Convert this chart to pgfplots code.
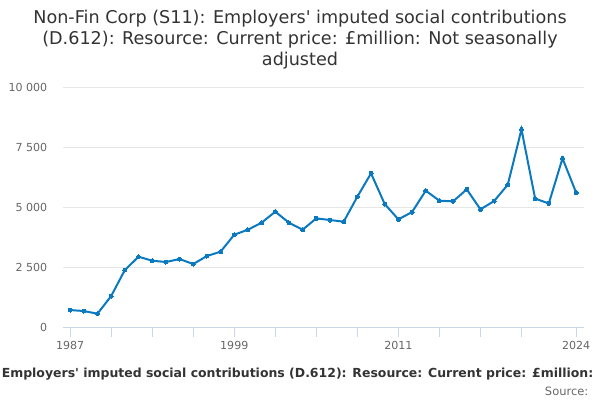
\documentclass[border=0pt]{standalone}
\usepackage{pgfplots}
\pgfplotsset{compat=1.18}
\usepackage{fontspec}
\newfontfamily\dv{DejaVu Sans}
\definecolor{lineblue}{HTML}{0A79BF}
\definecolor{gridc}{HTML}{E6E6E6}
\definecolor{tickc}{HTML}{CCD6EB}
\definecolor{labg}{HTML}{666666}
\definecolor{titc}{HTML}{333333}
\begin{document}
\begin{tikzpicture}[x=0.75pt,y=0.75pt]
\useasboundingbox (0,0) rectangle (600,400);
\node[anchor=north, align=center, text=titc, font=\dv\fontsize{13.2}{15.75}\selectfont, inner sep=0pt] at (300,390.5)
 {Non-Fin Corp (S11): Employers' imputed social contributions\\(D.612): Resource: Current price: £million: Not seasonally\\adjusted};
\begin{axis}[
 at={(47.475pt,54.225pt)}, anchor=south west,
 scale only axis, width=390.3pt, height=180.5pt,
 xmin=1986.5, xmax=2024.55, ymin=0, ymax=10000,
 axis lines*=left,
 y axis line style={draw=none},
 x axis line style={draw=tickc, line width=0.75pt},
 scaled y ticks=false,
 ytick={0,2500,5000,7500,10000},
 yticklabels={0,2 500,5 000,7 500,10 000},
 ymajorgrids, grid style={draw=gridc, line width=0.75pt},
 ytick style={draw=none},
 xtick={1987,1990,1993,1996,1999,2002,2005,2008,2011,2014,2017,2020,2024},
 xticklabels={1987,,,,1999,,,,2011,,,,2024},
 xtick style={draw=tickc, line width=0.75pt},
 tick align=outside, major tick length=6.75pt,
 ticklabel style={font=\dv\fontsize{8.3}{10}\selectfont, text=labg},
 yticklabel style={xshift=-1.75pt},
 /pgf/number format/assume math mode=true,
 clip=false,
]
\addplot[color=lineblue, line width=1.5pt, mark=*, mark size=1.5pt, mark options={fill=lineblue, draw=lineblue, line width=0pt}] coordinates {
(1987,734) (1988,692) (1989,582) (1990,1316) (1991,2396) (1992,2950)
(1993,2784) (1994,2729) (1995,2853) (1996,2645) (1997,2978) (1998,3158)
(1999,3864) (2000,4072) (2001,4363) (2002,4820) (2003,4363) (2004,4072)
(2005,4543) (2006,4474) (2007,4404) (2008,5443) (2009,6413) (2010,5139)
(2011,4501) (2012,4806) (2013,5693) (2014,5277) (2015,5249) (2016,5748)
(2017,4917) (2018,5263) (2019,5942) (2020,8241) (2021,5360) (2022,5166)
(2023,7036) (2024,5609)
};
\end{axis}
\node[anchor=base west, text=titc, font=\dv\bfseries\fontsize{9.35}{12}\selectfont, inner sep=0pt] at (1.5,22)
 {Employers' imputed social contributions (D.612): Resource: Current price: £million: Not seasonally adjusted};
\node[anchor=base east, text=labg, font=\dv\fontsize{8.6}{10}\selectfont, inner sep=0pt] at (588.5,4.3)
 {Source:};
\end{tikzpicture}
\end{document}
